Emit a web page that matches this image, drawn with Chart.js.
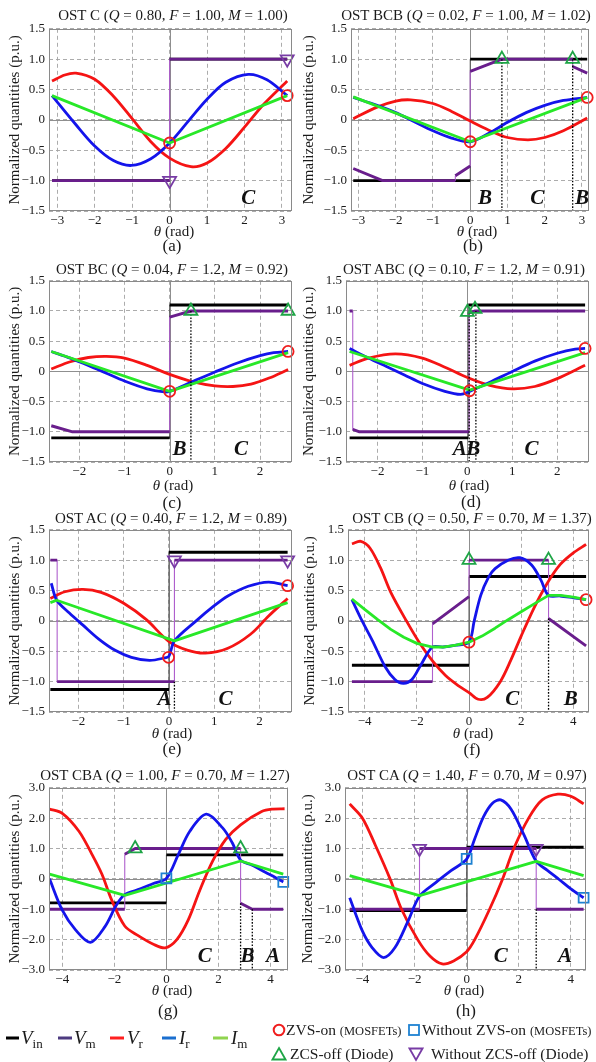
<!DOCTYPE html>
<html><head><meta charset="utf-8">
<script src="https://cdn.jsdelivr.net/npm/chart.js@4.4.1/dist/chart.umd.min.js"></script>
<style>
html,body{margin:0;padding:0;background:#fff;}
body{width:596px;height:1062px;position:relative;overflow:hidden;font-family:"Liberation Serif","Times New Roman",serif;color:#1a1a1a;}
canvas{position:absolute;}
.t{position:absolute;transform:translate(-50%,-50%);white-space:nowrap;line-height:1;}
.l{position:absolute;transform:translate(0,-50%);white-space:nowrap;line-height:1;}
.sw{position:absolute;height:3px;transform:translate(0,-50%);}
.sub{font-size:13px;position:relative;top:4px;font-style:normal;}
.sm{font-size:12.5px;}
</style></head><body>
<script>
// ---------- tick labels ----------
const xTicks3 = [-3,-2,-1,0,1,2,3];
const xTicks2 = [-2,-1,0,1,2];
const xTicks4 = [-4,-2,0,2,4];
const yTicks15 = [-1.5,-1,-0.5,0,0.5,1,1.5];
const yTicks3 = [-3,-2,-1,0,1,2,3];

// ---------- (a) OST C ----------
const aVin = [[-3.14,-1],[0,-1],null,[0,1],[3.14,1]];
const aVm = [[-3.14,-1],[0,-1],null,[0,1],[3.14,1]];
const aVmJump = [[0,-1],[0,1]];
const aVinJump = [[0,-1],[0,1]];
const aVr = [[-3.14,0.64],[-2.8,0.74],[-2.5,0.77],[-2.0,0.67],[-1.5,0.39],[-1.0,0.02],[-0.5,-0.36],[0,-0.63],[0.57,-0.77],[1.0,-0.71],[1.5,-0.47],[2.0,-0.12],[2.5,0.25],[3.14,0.64]];
const aIr = [[-3.14,0.4],[-2.5,-0.08],[-2.0,-0.43],[-1.5,-0.67],[-1.02,-0.75],[-0.5,-0.64],[0,-0.38],[0.5,-0.02],[1.0,0.34],[1.5,0.62],[2.1,0.75],[2.6,0.66],[3.14,0.4]];
const aIm = [[-3.14,0.4],[0,-0.38],[3.14,0.4]];
const aZVS = [[0,-0.38],[3.14,0.4]];
const aNoZCS = [[0,-1],[3.14,1]];
const aRegions = [['C',2.1]];

// ---------- (b) OST BCB ----------
const bVin = [[-3.14,-1],[0,-1],null,[0,1],[3.14,1]];
const bVm = [[-3.14,-0.8],[-2.35,-1],[-0.4,-1],null,[-0.4,-0.92],[0,-0.76],null,[0,0.8],[0.85,1],[2.75,1],null,[2.75,0.88],[3.14,0.77]];
const bVmJump = [[-0.4,-1],[-0.4,-0.92],null,[0,-0.76],[0,0.8],null,[2.75,1],[2.75,0.88]];
const bVinJump = [[0,-1],[0,1]];
const bVr = [[-3.14,0.02],[-2.5,0.21],[-2.0,0.31],[-1.6,0.33],[-1.0,0.27],[-0.5,0.14],[0,-0.02],[0.5,-0.17],[1.0,-0.29],[1.55,-0.33],[2.0,-0.29],[2.5,-0.18],[3.14,0.03]];
const bIr = [[-3.14,0.37],[-2.5,0.24],[-2.0,0.12],[-1.5,-0.03],[-1.0,-0.18],[-0.5,-0.3],[0,-0.36],[0.5,-0.22],[1.0,-0.04],[1.5,0.12],[2.0,0.24],[2.5,0.32],[3.14,0.37]];
const bIm = [[-3.14,0.38],[0,-0.36],[3.14,0.37]];
const bZVS = [[0,-0.36],[3.14,0.37]];
const bZCS = [[0.85,1],[2.75,1]];
const bDotted = [[0.85,1],[0.85,-1.5],null,[2.75,1],[2.75,-1.5]];
const bRegions = [['B',0.4],['C',1.8],['B',3.0]];

// ---------- (c) OST BC ----------
const cVin = [[-2.62,-1.1],[0,-1.1],null,[0,1.1],[2.62,1.1]];
const cVm = [[-2.62,-0.9],[-2.15,-1],[0,-1],null,[0,0.9],[0.47,1],[2.62,1]];
const cVmJump = [[0,-1],[0,0.9]];
const cVinJump = [[0,-1.1],[0,1.1]];
const cVr = [[-2.62,0.04],[-2.2,0.16],[-1.8,0.23],[-1.4,0.25],[-1.0,0.22],[-0.5,0.1],[0,-0.05],[0.5,-0.17],[1.0,-0.24],[1.4,-0.25],[1.8,-0.21],[2.2,-0.11],[2.62,0.03]];
const cIr = [[-2.62,0.33],[-2.2,0.22],[-1.8,0.1],[-1.4,-0.03],[-1.0,-0.16],[-0.5,-0.29],[-0.12,-0.34],[0,-0.33],[0.5,-0.17],[1.0,-0.01],[1.5,0.14],[2.0,0.26],[2.3,0.31],[2.62,0.33]];
const cIm = [[-2.62,0.33],[0,-0.33],[2.62,0.31]];
const cZVS = [[0,-0.33],[2.62,0.33]];
const cZCS = [[0.47,1],[2.62,1]];
const cDotted = [[0.47,1],[0.47,-1.5]];
const cRegions = [['B',0.22],['C',1.58]];

// ---------- (d) OST ABC ----------
const dVin = [[-2.62,-1.1],[0.02,-1.1],null,[0.02,1.1],[2.62,1.1]];
const dVm = [[-2.62,1],[-2.55,1],null,[-2.55,-0.96],[-2.4,-1],[0.04,-1],null,[0.04,0.97],[0.17,1],[2.62,1]];
const dVmJump = [[-2.55,1],[-2.55,-0.96],null,[0.04,-1],[0.04,0.97]];
const dVinJump = [[0.02,-1.1],[0.02,1.1]];
const dVr = [[-2.62,0.1],[-2.2,0.22],[-1.6,0.29],[-1.0,0.22],[-0.5,0.07],[0,-0.1],[0.5,-0.23],[1.0,-0.29],[1.5,-0.25],[2.0,-0.12],[2.62,0.1]];
const dIr = [[-2.62,0.38],[-2.2,0.22],[-1.8,0.08],[-1.4,-0.06],[-1.0,-0.2],[-0.5,-0.33],[-0.15,-0.38],[0.05,-0.33],[0.5,-0.18],[1.0,0.0],[1.5,0.17],[2.0,0.3],[2.4,0.37],[2.62,0.38]];
const dIm = [[-2.62,0.33],[0.05,-0.31],[2.62,0.31]];
const dZVS = [[0.05,-0.32],[2.62,0.38]];
const dZCS = [[0.0,0.98],[0.17,1.03]];
const dDotted = [[0.04,0.97],[0.04,-1.5],null,[0.19,1],[0.19,-1.5]];
const dRegions = [['A',-0.17],['B',0.13],['C',1.43]];

// ---------- (e) OST AC ----------
const eVin = [[-2.62,-1.13],[0,-1.13],null,[0,1.13],[2.62,1.13]];
const eVm = [[-2.62,1],[-2.47,1],null,[-2.47,-1],[0.12,-1],null,[0.12,1],[2.62,1]];
const eVmJump = [[-2.47,1],[-2.47,-1],null,[0.12,-1],[0.12,1]];
const eVinJump = [[0,-1.13],[0,1.13]];
const eVr = [[-2.62,0.37],[-2.3,0.48],[-1.9,0.52],[-1.5,0.47],[-1.0,0.29],[-0.5,0.02],[0,-0.34],[0.4,-0.48],[0.8,-0.53],[1.3,-0.45],[1.8,-0.22],[2.2,0.08],[2.62,0.37]];
const eIr = [[-2.6,0.62],[-2.48,0.34],[-2.2,0.13],[-1.9,-0.07],[-1.55,-0.3],[-1.2,-0.48],[-0.83,-0.6],[-0.43,-0.65],[-0.1,-0.61],[0,-0.58],[0.12,-0.33],[0.6,0.0],[1.0,0.25],[1.3,0.41],[1.75,0.57],[2.2,0.64],[2.62,0.58]];
const eIm = [[-2.62,0.3],[-2.48,0.34],[0.12,-0.33],[2.62,0.3]];
const eZVS = [[-0.01,-0.6],[2.62,0.58]];
const eNoZCS = [[0.12,1],[2.62,1]];
const eDotted = [[0.12,-1],[0.12,-1.5]];
const eRegions = [['A',-0.1],['C',1.25]];

// ---------- (f) OST CB ----------
const fVin = [[-4.49,-0.73],[0,-0.73],null,[0,0.73],[4.49,0.73]];
const fVm = [[-4.49,-1],[-1.4,-1],null,[-1.4,-0.05],[0,0.4],null,[0,1],[3.05,1],null,[3.05,0.04],[4.49,-0.41]];
const fVmJump = [[-1.4,-1],[-1.4,-0.05],null,[0,0.4],[0,1],null,[3.05,1],[3.05,0.04]];
const fVinJump = [[0,-0.73],[0,0.73]];
const fVr = [[-4.49,1.27],[-4.15,1.31],[-3.8,1.2],[-3.4,0.88],[-3.0,0.47],[-2.4,0.0],[-1.9,-0.36],[-1.4,-0.66],[-0.9,-0.9],[-0.4,-1.07],[0,-1.18],[0.35,-1.29],[0.7,-1.26],[1.2,-1.0],[1.6,-0.65],[2.0,-0.25],[2.5,0.22],[3.0,0.62],[3.5,0.93],[4.0,1.12],[4.49,1.26]];
const fIr = [[-4.49,0.35],[-4.1,0.0],[-3.71,-0.32],[-3.21,-0.76],[-2.85,-0.96],[-2.52,-1.03],[-2.2,-0.97],[-1.84,-0.72],[-1.4,-0.43],[-1.0,-0.43],[-0.5,-0.4],[0,-0.35],[0.2,0.0],[0.45,0.42],[0.75,0.72],[1.0,0.86],[1.5,1.0],[1.95,1.04],[2.4,0.92],[2.75,0.68],[3.05,0.42],[3.5,0.41],[4.0,0.38],[4.49,0.35]];
const fIm = [[-4.49,0.36],[-4.0,0.19],[-3.5,0.02],[-3.0,-0.14],[-2.5,-0.27],[-2.0,-0.37],[-1.4,-0.43],[-1.0,-0.43],[-0.5,-0.4],[0,-0.35],[0.5,-0.25],[1.0,-0.12],[1.5,0.02],[2.0,0.15],[2.5,0.28],[3.05,0.42],[3.5,0.42],[4.0,0.39],[4.49,0.35]];
const fZVS = [[0,-0.35],[4.49,0.35]];
const fZCS = [[0,1],[3.05,1]];
const fDotted = [[3.05,0.04],[3.05,-1.5]];
const fRegions = [['C',1.66],['B',3.9]];

// ---------- (g) OST CBA ----------
const gVin = [[-4.49,-0.79],[0,-0.79],null,[0,0.79],[4.49,0.79]];
const gVm = [[-4.49,-1],[-1.6,-1],null,[-1.6,0.81],[-1.2,1],[2.85,1],null,[2.85,-0.8],[3.3,-1],[4.49,-1]];
const gVmJump = [[-1.6,-1],[-1.6,0.81],null,[2.85,1],[2.85,-0.8]];
const gVinJump = [[0,-0.79],[0,0.79]];
const gVr = [[-4.49,2.3],[-4.0,2.16],[-3.36,1.57],[-2.86,0.81],[-2.48,0.16],[-2.1,-0.7],[-1.6,-1.55],[-1.1,-1.86],[-0.48,-2.16],[-0.04,-2.27],[0.4,-2.0],[0.84,-1.35],[1.28,-0.38],[1.78,0.59],[2.28,1.3],[2.85,1.78],[3.66,2.22],[4.1,2.3],[4.54,2.31]];
const gIr = [[-4.49,0.0],[-4.0,-1.03],[-3.49,-1.68],[-2.92,-2.09],[-2.36,-1.57],[-1.92,-0.86],[-1.6,-0.52],[-1.0,-0.33],[-0.5,-0.15],[0,0.02],[0.46,0.81],[0.9,1.57],[1.53,2.13],[2.16,1.68],[2.53,1.19],[2.85,0.62],[3.3,0.45],[3.8,0.22],[4.2,0.04],[4.49,-0.1]];
const gIm = [[-4.49,0.16],[-1.6,-0.54],[2.85,0.59],[4.49,0.16]];
const gNoZVS = [[0,0.02],[4.49,-0.1]];
const gZCS = [[-1.2,1],[2.85,1]];
const gDotted = [[2.85,-0.8],[2.85,-3],null,[3.3,-1],[3.3,-3]];
const gRegions = [['C',1.47],['B',3.12],['A',4.1]];

// ---------- (h) OST CA ----------
const hVin = [[-4.49,-1.04],[0,-1.04],null,[0,1.04],[4.49,1.04]];
const hVm = [[-4.49,-1],[-1.81,-1],null,[-1.81,1],[2.67,1],null,[2.67,-1],[4.49,-1]];
const hVmJump = [[-1.81,-1],[-1.81,1],null,[2.67,1],[2.67,-1]];
const hVinJump = [[0,-1.04],[0,1.04]];
const hVr = [[-4.49,2.47],[-4.0,2.0],[-3.5,1.1],[-2.94,0.0],[-2.5,-1.0],[-1.88,-2.0],[-1.4,-2.55],[-0.94,-2.8],[-0.5,-2.7],[0,-2.4],[0.31,-2.0],[0.88,-1.0],[1.38,0.0],[1.81,1.0],[2.38,2.0],[2.9,2.6],[3.5,2.79],[4.0,2.72],[4.49,2.47]];
const hIr = [[-4.49,-0.62],[-4.0,-1.72],[-3.63,-2.26],[-3.19,-2.59],[-2.75,-2.26],[-2.25,-1.39],[-1.81,-0.57],[-1.2,-0.13],[-0.6,0.27],[0,0.65],[0.3,1.3],[0.65,2.05],[1.0,2.5],[1.31,2.6],[1.7,2.3],[2.2,1.45],[2.67,0.58],[3.1,0.28],[3.55,-0.02],[4.0,-0.33],[4.49,-0.62]];
const hIm = [[-4.49,0.11],[-1.81,-0.55],[2.67,0.58],[4.49,0.11]];
const hNoZVS = [[0,0.66],[4.49,-0.62]];
const hNoZCS = [[-1.81,1],[2.67,1]];
const hDotted = [[2.67,-1],[2.67,-3]];
const hRegions = [['C',1.31],['A',3.78]];

// ---------- panel layout (positions / styles only) ----------
const panels = [
 {L:49,T:27,R:297,B:211,yT:15,xr:[-3.22,3.26],yr:[-1.5,1.5],xTicks:xTicks3,yTicks:yTicks15,labY:-1.3,
  title:'OST C (<i>Q</i> = 0.80, <i>F</i> = 1.00, <i>M</i> = 1.00)',tc:[173,15],xt:[174,231],let:'(a)',lc:[172,245],
  Vin:aVin,Vm:aVm,VmJump:aVmJump,VinJump:aVinJump,Vr:aVr,Ir:aIr,Im:aIm,zvs:aZVS,noZvs:[],zcs:[],noZcs:aNoZCS,dotted:[],regions:aRegions},
 {L:351,T:27,R:594,B:211,yT:309,xr:[-3.2,3.18],yr:[-1.5,1.5],xTicks:xTicks3,yTicks:yTicks15,labY:-1.3,
  title:'OST BCB (<i>Q</i> = 0.02, <i>F</i> = 1.00, <i>M</i> = 1.02)',tc:[466,15],xt:[477,231],let:'(b)',lc:[473,245],
  Vin:bVin,Vm:bVm,VmJump:bVmJump,VinJump:bVinJump,Vr:bVr,Ir:bIr,Im:bIm,zvs:bZVS,noZvs:[],zcs:bZCS,noZcs:[],dotted:bDotted,regions:bRegions},
 {L:49,T:279,R:297,B:462,yT:15,xr:[-2.67,2.7],yr:[-1.5,1.5],xTicks:xTicks2,yTicks:yTicks15,labY:-1.3,
  title:'OST BC (<i>Q</i> = 0.04, <i>F</i> = 1.2, <i>M</i> = 0.92)',tc:[172,269],xt:[173,485],let:'(c)',lc:[172,502],
  Vin:cVin,Vm:cVm,VmJump:cVmJump,VinJump:cVinJump,Vr:cVr,Ir:cIr,Im:cIm,zvs:cZVS,noZvs:[],zcs:cZCS,noZcs:[],dotted:cDotted,regions:cRegions},
 {L:346,T:279,R:594,B:462,yT:309,xr:[-2.7,2.7],yr:[-1.5,1.5],xTicks:xTicks2,yTicks:yTicks15,labY:-1.3,
  title:'OST ABC (<i>Q</i> = 0.10, <i>F</i> = 1.2, <i>M</i> = 0.91)',tc:[464,269],xt:[469,485],let:'(d)',lc:[471,501],
  Vin:dVin,Vm:dVm,VmJump:dVmJump,VinJump:dVinJump,Vr:dVr,Ir:dIr,Im:dIm,zvs:dZVS,noZvs:[],zcs:dZCS,noZcs:[],dotted:dDotted,regions:dRegions},
 {L:49,T:528,R:297,B:712,yT:15,xr:[-2.65,2.71],yr:[-1.5,1.5],xTicks:xTicks2,yTicks:yTicks15,labY:-1.3,
  title:'OST AC (<i>Q</i> = 0.40, <i>F</i> = 1.2, <i>M</i> = 0.89)',tc:[171,518],xt:[172,733],let:'(e)',lc:[172,748],
  Vin:eVin,Vm:eVm,VmJump:eVmJump,VinJump:eVinJump,Vr:eVr,Ir:eIr,Im:eIm,zvs:eZVS,noZvs:[],zcs:[],noZcs:eNoZCS,dotted:eDotted,regions:eRegions},
 {L:348,T:528,R:594,B:712,yT:310,xr:[-4.64,4.59],yr:[-1.5,1.5],xTicks:xTicks4,yTicks:yTicks15,labY:-1.3,
  title:'OST CB (<i>Q</i> = 0.50, <i>F</i> = 0.70, <i>M</i> = 1.37)',tc:[472,518],xt:[473,733],let:'(f)',lc:[472,749],
  Vin:fVin,Vm:fVm,VmJump:fVmJump,VinJump:fVinJump,Vr:fVr,Ir:fIr,Im:fIm,zvs:fZVS,noZvs:[],zcs:fZCS,noZcs:[],dotted:fDotted,regions:fRegions},
 {L:49,T:786,R:293,B:970,yT:15,xr:[-4.51,4.66],yr:[-3,3],xTicks:xTicks4,yTicks:yTicks3,labY:-2.55,
  title:'OST CBA (<i>Q</i> = 1.00, <i>F</i> = 0.70, <i>M</i> = 1.27)',tc:[165,775],xt:[172,990],let:'(g)',lc:[168,1010],
  Vin:gVin,Vm:gVm,VmJump:gVmJump,VinJump:gVinJump,Vr:gVr,Ir:gIr,Im:gIm,zvs:[],noZvs:gNoZVS,zcs:gZCS,noZcs:[],dotted:gDotted,regions:gRegions},
 {L:345,T:786,R:591,B:970,yT:308,xr:[-4.67,4.57],yr:[-3,3],xTicks:xTicks4,yTicks:yTicks3,labY:-2.55,
  title:'OST CA (<i>Q</i> = 1.40, <i>F</i> = 0.70, <i>M</i> = 0.97)',tc:[467,775],xt:[464,990],let:'(h)',lc:[466,1010],
  Vin:hVin,Vm:hVm,VmJump:hVmJump,VinJump:hVinJump,Vr:hVr,Ir:hIr,Im:hIm,zvs:[],noZvs:hNoZVS,zcs:[],noZcs:hNoZCS,dotted:hDotted,regions:hRegions}
];

const COL = {Vin:'#000000',Vm:'rgb(105,30,140)',VmThin:'rgb(175,95,205)',Vr:'rgb(245,20,20)',Ir:'rgb(20,20,235)',Im:'rgb(40,232,40)',
  zvs:'rgb(240,30,30)',noZvs:'rgb(30,130,210)',zcs:'rgb(30,165,70)',noZcs:'rgb(120,60,165)'};

Chart.defaults.font.family = '"Liberation Serif","Times New Roman",serif';
Chart.defaults.color = '#1a1a1a';

function pts(arr){
  const out=[]; let lx=0;
  arr.forEach(p=>{ if(p){ out.push({x:p[0],y:p[1]}); lx=p[0]; } else out.push({x:lx,y:null}); });
  return out;
}
function line(arr,color,w,extra){
  return Object.assign({data:pts(arr),showLine:true,borderColor:color,borderWidth:w,pointRadius:0,fill:false,tension:0,spanGaps:false,borderJoinStyle:'round',borderCapStyle:'butt'},extra||{});
}
function marks(arr,style,color,r,rot){
  return {data:pts(arr),showLine:false,pointStyle:style,pointRadius:r,pointRotation:rot||0,pointBorderColor:color,
    pointBackgroundColor:'rgba(0,0,0,0)',pointBorderWidth:1.8,clip:false};
}
const fmtY = v => v===0 ? '0' : (v<0?'\u2212':'') + Math.abs(v).toFixed(1);
const fmtX = v => v===0 ? '0' : (v<0?'\u2212':'') + Math.abs(v);

const decor = {
  id:'decor',
  beforeDatasetsDraw(chart){
    const {ctx,chartArea:a,scales:{x,y}} = chart;
    ctx.save(); ctx.strokeStyle='#8f8f8f'; ctx.lineWidth=1; ctx.setLineDash([]);
    const x0=Math.round(x.getPixelForValue(0))+0.5, y0=Math.round(y.getPixelForValue(0))+0.5;
    ctx.beginPath(); ctx.moveTo(x0,a.top); ctx.lineTo(x0,a.bottom); ctx.moveTo(a.left,y0); ctx.lineTo(a.right,y0); ctx.stroke();
    ctx.restore();
  },
  afterDatasetsDraw(chart,args,opts){
    const {ctx,chartArea:a,scales:{x,y}} = chart;
    ctx.save();
    ctx.strokeStyle='#8a8a8a'; ctx.lineWidth=1; ctx.setLineDash([]);
    ctx.strokeRect(Math.round(a.left)+0.5,Math.round(a.top)+0.5,Math.round(a.right-a.left)-1,Math.round(a.bottom-a.top)-1);
    ctx.fillStyle='#111'; ctx.font='italic bold 21px "Liberation Serif", serif'; ctx.textAlign='center'; ctx.textBaseline='middle';
    (opts.regions||[]).forEach(r=>{ ctx.fillText(r[0], x.getPixelForValue(r[1]), y.getPixelForValue(opts.labY)); });
    ctx.restore();
  }
};

function addText(html,x,y,size,cls){
  const d=document.createElement('div'); d.className=cls||'t'; d.innerHTML=html;
  d.style.left=x+'px'; d.style.top=y+'px'; d.style.fontSize=size+'px';
  document.body.appendChild(d); return d;
}

panels.forEach(P=>{
  const cl = P.yT - 9, ct = P.T - 10;
  const W = P.R + 4 - cl, H = P.B + 18 - ct;
  const cv = document.createElement('canvas');
  cv.width=W; cv.height=H; cv.style.left=cl+'px'; cv.style.top=ct+'px'; cv.style.width=W+'px'; cv.style.height=H+'px';
  document.body.appendChild(cv);
  const yW = P.L - cl;
  const smooth = {tension:0.32};
  const datasets = [
    marks(P.zvs,'circle',COL.zvs,5.5),
    marks(P.noZvs,'rect',COL.noZvs,7),
    marks(P.zcs,'triangle',COL.zcs,7.5),
    marks(P.noZcs,'triangle',COL.noZcs,7.5,180),
    line(P.dotted,'#000',1.3,{borderDash:[1.6,1.6]}),
    line(P.Im,COL.Im,2.8),
    line(P.Ir,COL.Ir,2.8,smooth),
    line(P.Vr,COL.Vr,2.8,smooth),
    line(P.Vm,COL.Vm,2.9),
    line(P.VmJump,COL.VmThin,1.1),
    line(P.Vin,COL.Vin,2.9),
    line(P.VinJump,'#555',1)
  ];
  new Chart(cv,{
    type:'scatter',
    data:{datasets},
    options:{
      responsive:false, maintainAspectRatio:false, animation:false, events:[],
      layout:{padding:{left:0,top:10,right:4,bottom:0}},
      plugins:{legend:{display:false},tooltip:{enabled:false},decor:{regions:P.regions,labY:P.labY}},
      scales:{
        x:{type:'linear',min:P.xr[0],max:P.xr[1],
          afterBuildTicks:s=>{s.ticks=P.xTicks.map(v=>({value:v}));},
          afterFit:s=>{s.height=18;},
          ticks:{callback:fmtX,padding:2,maxRotation:0,autoSkip:false,font:{size:13},color:'#1a1a1a'},
          grid:{color:'#a3a3a3',lineWidth:0.9,drawTicks:false},
          border:{display:false,dash:[4,3]}},
        y:{type:'linear',min:P.yr[0],max:P.yr[1],
          afterBuildTicks:s=>{s.ticks=P.yTicks.map(v=>({value:v}));},
          afterFit:s=>{s.width=yW;},
          ticks:{callback:fmtY,padding:4,autoSkip:false,font:{size:13},color:'#1a1a1a'},
          grid:{color:'#a3a3a3',lineWidth:0.9,drawTicks:false},
          border:{display:false,dash:[4,3]},
          title:{display:true,text:'Normalized quantities (p.u.)',font:{size:15},padding:0,color:'#1a1a1a'}}
      }
    },
    plugins:[decor]
  });
  addText(P.title,P.tc[0],P.tc[1],15);
  addText('<i>\u03b8</i> (rad)',P.xt[0],P.xt[1],15);
  addText(P.let,P.lc[0],P.lc[1],17);
});

// ---------- legend ----------
const legLines = [
  {c:'#000',x:6,w:13,t:'<i>V</i><span class="sub">in</span>',tx:21},
  {c:'#4d3b80',x:58,w:14,t:'<i>V</i><span class="sub">m</span>',tx:74},
  {c:'#ff2020',x:110,w:14,t:'<i>V</i><span class="sub">r</span>',tx:127},
  {c:'#1a6fcf',x:162,w:14,t:'<i>I</i><span class="sub">r</span>',tx:179},
  {c:'#8fd44f',x:213,w:15,t:'<i>I</i><span class="sub">m</span>',tx:231}
];
legLines.forEach(g=>{
  const s=document.createElement('div'); s.className='sw'; s.style.left=g.x+'px'; s.style.top='1038px'; s.style.width=g.w+'px'; s.style.background=g.c;
  document.body.appendChild(s);
  addText(g.t,g.tx,1037,19,'l');
});
function svgMark(kind,color,cx,cy){
  const d=document.createElement('div'); d.style.position='absolute'; d.style.left=(cx-8)+'px'; d.style.top=(cy-8)+'px';
  let shape='';
  if(kind==='c') shape='<circle cx="8" cy="8" r="5.3" fill="none" stroke="'+color+'" stroke-width="2"/>';
  if(kind==='s') shape='<rect x="3" y="3" width="10" height="10" fill="none" stroke="'+color+'" stroke-width="1.8"/>';
  if(kind==='t') shape='<polygon points="8,2 14.5,13.5 1.5,13.5" fill="none" stroke="'+color+'" stroke-width="1.8"/>';
  if(kind==='v') shape='<polygon points="1.5,2.5 14.5,2.5 8,14" fill="none" stroke="'+color+'" stroke-width="1.8"/>';
  d.innerHTML='<svg width="16" height="16" xmlns="http://www.w3.org/2000/svg">'+shape+'</svg>';
  document.body.appendChild(d);
}
svgMark('c','rgb(240,30,30)',279,1030);
svgMark('s','rgb(30,130,210)',414,1030);
svgMark('t','rgb(30,165,70)',279,1054);
svgMark('v','rgb(120,60,165)',416,1054);
addText('ZVS-on <span class="sm">(MOSFETs)</span>',286,1030,15.5,'l');
addText('Without ZVS-on <span class="sm">(MOSFETs)</span>',422,1030,15.5,'l');
addText('ZCS-off (Diode)',290,1054,15.5,'l');
addText('Without ZCS-off (Diode)',431,1054,15.5,'l');
</script>
</body></html>
